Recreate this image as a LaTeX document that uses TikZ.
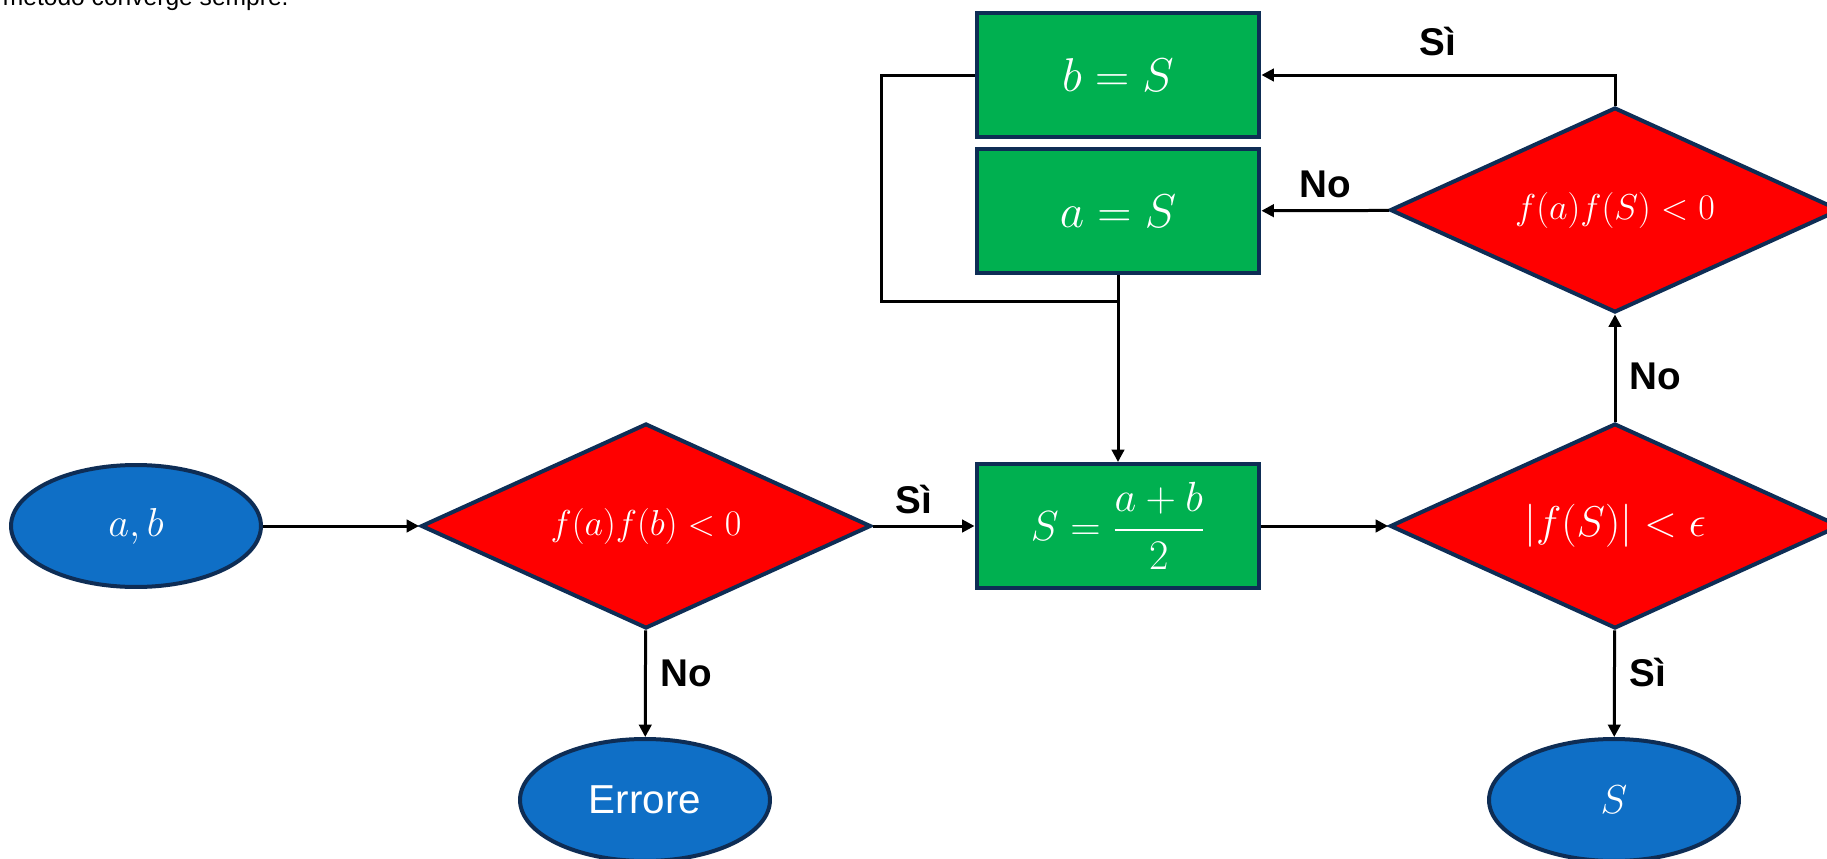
\RequirePackage{fix-cm}
\documentclass[tikz,border=0pt]{standalone}
\usepackage{amsmath}
\usepackage{fontspec}
\setsansfont{Liberation Sans}
\usetikzlibrary{shapes.geometric,arrows.meta}
\definecolor{stepgreen}{HTML}{00B050}
\definecolor{testred}{HTML}{FF0000}
\definecolor{termblue}{HTML}{0F6FC6}
\definecolor{edgenavy}{HTML}{0E2D55}
\tikzset{
	action/.style={rectangle, draw=edgenavy, fill=stepgreen, line width=0.08cm,
		minimum width=5.66cm, minimum height=2.48cm, text=white,
		font=\fontsize{27}{31}\selectfont},
	test/.style={diamond, aspect=2.2, draw=edgenavy, fill=testred, line width=0.08cm,
		minimum width=9cm, minimum height=4.1cm, inner sep=0pt, text=white,
		font=\fontsize{20.5}{24}\selectfont},
	term/.style={ellipse, draw=edgenavy, fill=termblue, line width=0.08cm,
		minimum width=5cm, minimum height=2.44cm, text=white,
		font=\sffamily\fontsize{23}{27}\selectfont},
	lbl/.style={font=\sffamily\bfseries\fontsize{22}{26}\selectfont, text=black},
}

\begin{document}
\begin{tikzpicture}[x=0.02cm, y=-0.02cm, line width=0.06cm,
	>={Triangle[length=0.25cm,width=0.25cm]}]
	\useasboundingbox (0,0) rectangle (1827,859);
	\clip (0,0) rectangle (1827,859);
	\node[anchor=base east, font=\sffamily\fontsize{14}{16}\selectfont] (intro) at (296,5) {il metodo converge sempre.};
	\node[term] (ab) at (136,526) {$a,b$};
	\node[test] (t1) at (646,526) {$f(a)f(b)<0$};
	\node[term] (err) at (645,800) {Errore};
	\node[action, font=\fontsize{24}{28}\selectfont] (mid) at (1118,526) {$S=\dfrac{a+b}{2}$};
	\node[test, font=\fontsize{24.5}{28}\selectfont] (t2) at (1615,526) {$|f(S)|<\epsilon$};
	\node[term] (res) at (1614,800) {$S$};
	\node[test] (t3) at (1615,210) {$f(a)f(S)<0$};
	\node[action] (aS) at (1118,211) {$a=S$};
	\node[action] (bS) at (1118,75) {$b=S$};
	\coordinate (corner) at (881,75);
	\coordinate (join) at (1118,301);
	\path[->]
		(ab) edge (t1)
		(t1) edge node[lbl, above, pos=0.4, yshift=0.1cm] {Sì} (mid)
		(t1) edge node[lbl, right, pos=0.4, xshift=0.15cm] {No} (err)
		(mid) edge (t2)
		(t2) edge node[lbl, right, pos=0.42, xshift=0.15cm] {No} (t3)
		(t2) edge node[lbl, right, pos=0.4, xshift=0.15cm] {Sì} (res)
		(t3) edge node[lbl, above, yshift=0.1cm] {No} (aS)
		(aS) edge (mid);
	\draw[->] (t3.north) |- node[lbl, pos=0.75, above, yshift=0.24cm] {Sì} (bS.east);
	\draw (bS.west) -- (corner) |- (join);
\end{tikzpicture}
\end{document}
